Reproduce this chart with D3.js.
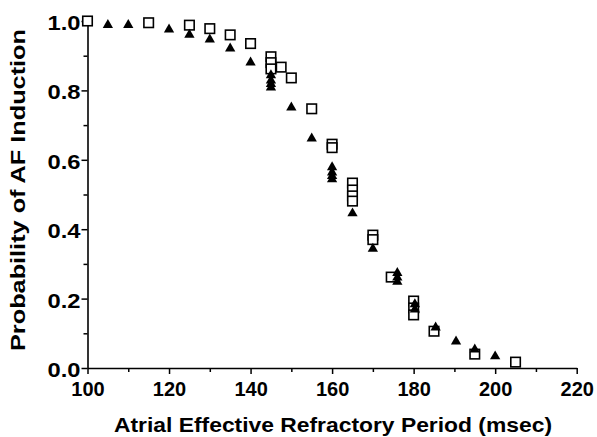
<!DOCTYPE html>
<html>
<head>
<meta charset="utf-8">
<script src="https://cdn.jsdelivr.net/npm/d3@7"></script>
<style>
  html, body { margin: 0; padding: 0; background: #fff; }
  svg { display: block; }
  text { font-family: "Liberation Sans", Arial, Helvetica, sans-serif; font-weight: bold; fill: #000; }
</style>
</head>
<body>
<svg id="chart" width="597" height="437"></svg>
<script>
// ---- data ----
const squareX = [100, 115, 125, 130, 135, 140, 145, 145, 145, 147.5, 150, 155, 160, 160, 165, 165, 165, 165, 170, 170, 174.5, 180, 180, 180, 185, 195, 205];
const squareY = [1.0, 0.995, 0.988, 0.978, 0.96, 0.935, 0.897, 0.88, 0.862, 0.867, 0.836, 0.747, 0.645, 0.635, 0.533, 0.513, 0.496, 0.481, 0.383, 0.37, 0.262, 0.193, 0.173, 0.153, 0.106, 0.04, 0.017];

const triangleX = [105, 110, 120, 125, 130, 135, 140, 145, 145, 145, 145, 150, 155, 160, 160, 160, 160, 165, 170, 176, 176, 176, 180.3, 180.3, 185.4, 190.4, 195, 200];
const triangleY = [0.99, 0.99, 0.977, 0.962, 0.948, 0.922, 0.882, 0.845, 0.83, 0.82, 0.81, 0.752, 0.663, 0.58, 0.565, 0.555, 0.545, 0.447, 0.345, 0.275, 0.262, 0.25, 0.185, 0.17, 0.118, 0.078, 0.055, 0.035];

const xMajorTicks = [100, 120, 140, 160, 180, 200, 220];
const xMinorTicks = [110, 130, 150, 170, 190, 210];
const yMajorTicks = [0.0, 0.2, 0.4, 0.6, 0.8, 1.0];
const yMinorTicks = [0.1, 0.3, 0.5, 0.7, 0.9];

const xTitle = "Atrial Effective Refractory Period (msec)";
const yTitle = "Probability of AF Induction";

// ---- layout ----
const svg = d3.select("#chart");
const x = d3.scaleLinear().domain([100, 220]).range([87.5, 576.7]);
const y = d3.scaleLinear().domain([0, 1]).range([368, 21]);

// minor ticks
svg.append("g")
  .attr("transform", `translate(0,${y(0)})`)
  .call(d3.axisBottom(x).tickValues(xMinorTicks).tickSize(4).tickFormat(""))
  .call(g => g.select(".domain").remove())
  .call(g => g.selectAll("line").attr("stroke", "#000").attr("stroke-width", 1.5));
svg.append("g")
  .attr("transform", `translate(${x(100)},0)`)
  .call(d3.axisLeft(y).tickValues(yMinorTicks).tickSize(4).tickFormat(""))
  .call(g => g.select(".domain").remove())
  .call(g => g.selectAll("line").attr("stroke", "#000").attr("stroke-width", 1.5));

// major axes
const xAxis = svg.append("g")
  .attr("transform", `translate(0,${y(0)})`)
  .call(d3.axisBottom(x).tickValues(xMajorTicks).tickSize(6).tickSizeOuter(0).tickPadding(8).tickFormat(d3.format("d")));
const yAxis = svg.append("g")
  .attr("transform", `translate(${x(100)},0)`)
  .call(d3.axisLeft(y).tickValues(yMajorTicks).tickSize(6).tickSizeOuter(0).tickPadding(1).tickFormat(d3.format(".1f")));

[xAxis, yAxis].forEach(g => {
  g.select(".domain").attr("stroke", "#000").attr("stroke-width", 1.6);
  g.selectAll(".tick line").attr("stroke", "#000").attr("stroke-width", 1.5);
  g.selectAll(".tick text")
    .attr("fill", "#000")
    .style("font-family", '"Liberation Sans", Arial, sans-serif')
    .style("font-weight", "bold")
    .style("font-size", "20px");
});
yAxis.selectAll(".tick text").attr("dy", "0.42em").attr("textLength", 33).attr("lengthAdjust", "spacingAndGlyphs");

// axis titles
svg.append("text")
  .attr("x", 333).attr("y", 432)
  .attr("text-anchor", "middle")
  .attr("textLength", 438).attr("lengthAdjust", "spacingAndGlyphs")
  .style("font-size", "21px")
  .text(xTitle);
svg.append("text")
  .attr("transform", "translate(25,190) rotate(-90)")
  .attr("text-anchor", "middle")
  .attr("textLength", 322).attr("lengthAdjust", "spacingAndGlyphs")
  .style("font-size", "21px")
  .text(yTitle);

// ---- marks ----
const squares = d3.zip(squareX, squareY);
const triangles = d3.zip(triangleX, triangleY);

svg.append("g").selectAll("rect")
  .data(squares)
  .join("rect")
  .attr("x", d => x(d[0]) - 4.75)
  .attr("y", d => y(d[1]) - 4.75)
  .attr("width", 9.5)
  .attr("height", 9.5)
  .attr("fill", "#fff")
  .attr("stroke", "#000")
  .attr("stroke-width", 1.6);

const tri = d3.symbol().type(d3.symbolTriangle).size(46);
svg.append("g").selectAll("path")
  .data(triangles)
  .join("path")
  .attr("transform", d => `translate(${x(d[0])},${y(d[1]) + 0.5})`)
  .attr("d", tri)
  .attr("fill", "#000");
</script>
</body>
</html>
